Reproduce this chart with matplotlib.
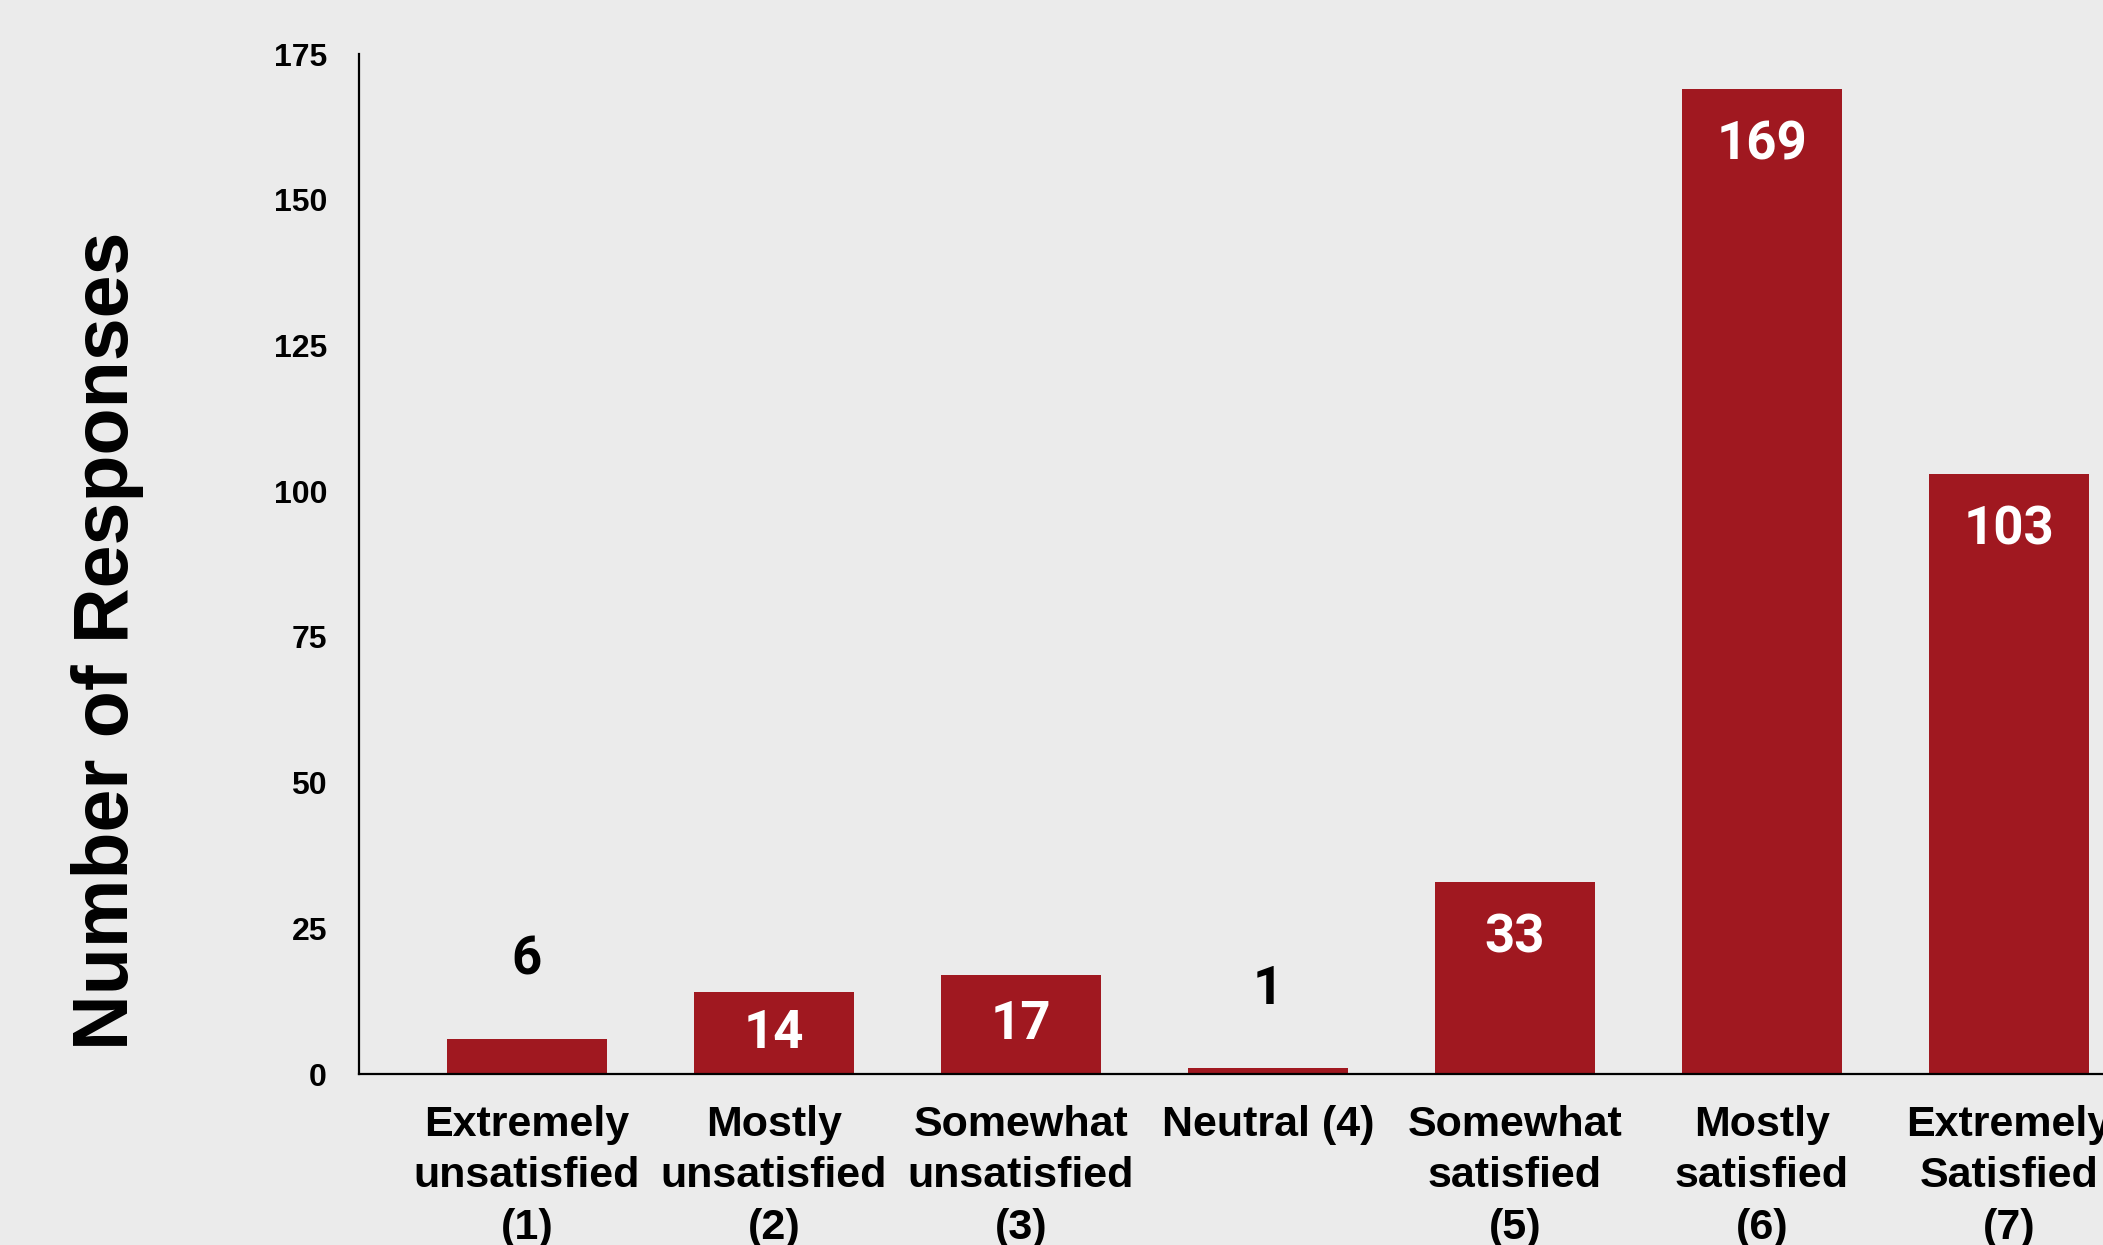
import matplotlib.pyplot as plt
import numpy as np

# survey data
categories = ['Extremely\nunsatisfied\n(1)', 'Mostly\nunsatisfied\n(2)', 'Somewhat\nunsatisfied\n(3)',
              'Neutral (4)', 'Somewhat\nsatisfied\n(5)', 'Mostly\nsatisfied\n(6)', 'Extremely\nSatisfied\n(7)']
responses = [6, 14, 17, 1, 33, 169, 103]
yticks = [0, 25, 50, 75, 100, 125, 150, 175]

bg = '#ebebeb'
red = '#a01820'

fig = plt.figure(figsize=(21.03, 12.45), dpi=100, facecolor=bg)
ax = fig.add_axes([0.1707, 0.1373, 0.8727, 0.8193], facecolor=bg)

x = np.arange(len(categories))
bars = ax.bar(x, responses, width=0.65, color=red)

ax.set_xlim(-0.68, 6.75)
ax.set_ylim(0, 175)
ax.set_yticks(yticks)
ax.set_xticks(x)
ax.set_xticklabels(categories, fontsize=31, fontweight='bold', family='Liberation Sans', linespacing=1.38)
for lab in ax.get_yticklabels():
    lab.set_fontsize(23)
    lab.set_fontweight('bold')
    lab.set_family('Liberation Sans')
ax.tick_params(axis='y', length=0, pad=23)
ax.tick_params(axis='x', length=0, pad=22)

for s in ['top', 'right']:
    ax.spines[s].set_visible(False)
for s in ['left', 'bottom']:
    ax.spines[s].set_linewidth(1.6)
    ax.spines[s].set_color('black')

ax.set_ylabel('Number of Responses', fontsize=55.5, fontweight='bold', family='Liberation Sans', va='center')
ax.yaxis.set_label_coords(-0.137, 0.4245)

# value labels: inside (white) for taller bars, above (black) for small ones
pt_per_unit = 1020 / 175 / (100 / 72)
for xi, v in zip(x, responses):
    if v >= 10:
        off = min(40.5, v * pt_per_unit / 2)
        ax.annotate(str(v), (xi, v), xytext=(0, -off), textcoords='offset points',
                    ha='center', va='center', color='white', fontsize=38,
                    fontweight='bold', family='Roboto')
    else:
        ax.annotate(str(v), (xi, v), xytext=(0, 57), textcoords='offset points',
                    ha='center', va='center', color='black', fontsize=38,
                    fontweight='bold', family='Roboto')

fig.savefig('out.png', dpi=100, facecolor=bg)
plt.close(fig)
